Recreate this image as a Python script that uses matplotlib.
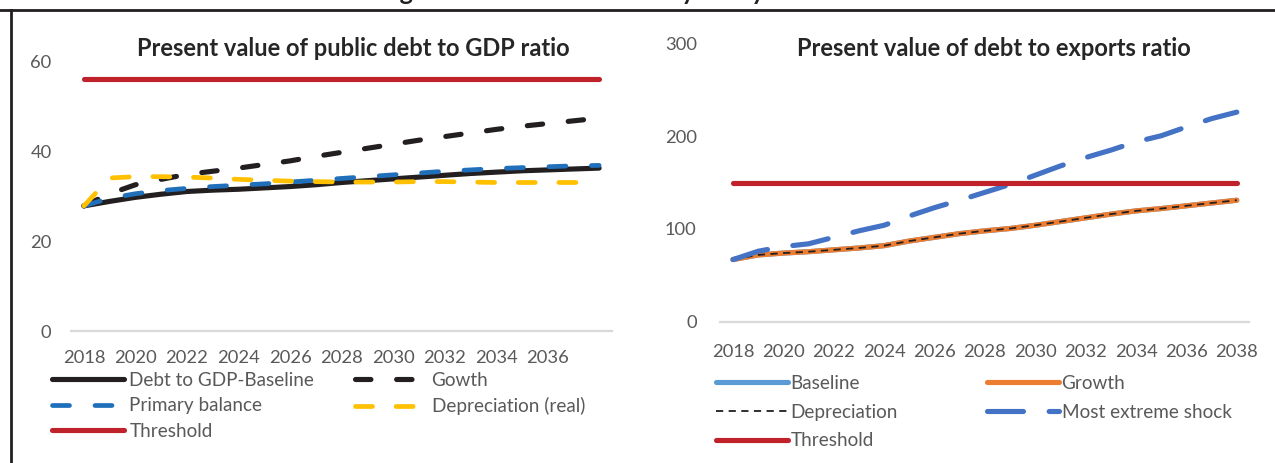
import matplotlib
matplotlib.use('Agg')
import matplotlib.pyplot as plt
from matplotlib.lines import Line2D

# ---------------- data ----------------
years = list(range(2018, 2039))
left_xticks = list(range(2018, 2037, 2))
right_xticks = list(range(2018, 2039, 2))
left_yticks = [0, 20, 40, 60]
right_yticks = [0, 100, 200, 300]

gdp_baseline = [27.8, 28.8, 29.7, 30.4, 31.0, 31.3, 31.5, 31.8, 32.1, 32.5, 33.0,
                33.4, 33.8, 34.2, 34.6, 35.0, 35.3, 35.6, 35.8, 36.0, 36.2]
gdp_growth = [27.8, 30.5, 32.5, 33.7, 34.8, 35.5, 36.2, 37.0, 37.8, 38.8, 39.7,
              40.6, 41.5, 42.4, 43.2, 44.0, 44.8, 45.5, 46.1, 46.7, 47.3]
gdp_primary = [27.8, 29.5, 30.5, 31.2, 31.7, 32.1, 32.4, 32.7, 33.1, 33.5, 33.9,
               34.3, 34.7, 35.1, 35.5, 35.8, 36.1, 36.3, 36.5, 36.7, 36.8]
gdp_depreciation = [27.8, 34.0, 34.3, 34.3, 34.2, 34.0, 33.7, 33.5, 33.3, 33.2, 33.1,
                    33.1, 33.1, 33.2, 33.2, 33.1, 33.0, 33.0, 33.0, 33.0, 33.0]
gdp_threshold = [56] * len(years)

exp_baseline = [67, 72, 74, 75.5, 77.5, 79.5, 82, 87, 91, 95, 98,
                100.5, 104, 108, 112, 116, 119.5, 122, 125, 128, 131]
exp_growth = [67, 72, 74, 75.5, 77.5, 79.5, 82, 87, 91, 95, 98,
              100.5, 104, 108, 112, 116, 119.5, 122, 125, 128, 131]
exp_depreciation = [67, 72, 74, 75.5, 77.5, 79.5, 82, 87, 91, 95, 98,
                    100.5, 104, 108, 112, 116, 119.5, 122, 125, 128, 131]
exp_shock = [67, 76, 81, 84, 91, 98, 104, 114, 123, 131, 139.5,
             148, 158, 168, 177, 185, 194, 200.5, 210, 219, 226]
exp_threshold = [150] * len(years)

# ---------------- style ----------------
plt.rcParams['font.family'] = ['Lato', 'DejaVu Sans']
GRAY = '#595959'
W, H = 1275, 463
fig = plt.figure(figsize=(W / 100, H / 100), dpi=100)


def fx(x):
    return x / W


def fy(y):
    return 1 - y / H


# frame lines and (clipped) figure title
fig.add_artist(Line2D([0, 1], [fy(10), fy(10)], color='#231f20', lw=2.0))
fig.add_artist(Line2D([fx(10.5), fx(10.5)], [fy(10), 0], color='#231f20', lw=2.0))
fig.text(fx(630), fy(0.5), 'Figure 1: Debt Sustainability Analysis Results',
         ha='center', va='baseline', fontsize=18, weight='bold', color='#231f20')

BLACK = '#231f20'
RED = '#c0222b'
LW = 3.7


def style_axes(ax, yticks, ylim, ypad, xpad):
    ax.set_xlim(2017.5, 2038.5)
    ax.set_ylim(*ylim)
    ax.set_yticks(yticks)
    for s in ['left', 'right', 'top']:
        ax.spines[s].set_visible(False)
    ax.spines['bottom'].set_color('#d9d9d9')
    ax.spines['bottom'].set_linewidth(1.6)
    ax.tick_params(axis='both', length=0, labelsize=13.2, labelcolor=GRAY)
    ax.tick_params(axis='y', pad=ypad)
    ax.tick_params(axis='x', pad=xpad)
    ax.patch.set_alpha(0)


# ---------------- left chart ----------------
axL = fig.add_axes([fx(71), fy(331), (612 - 71) / W, (331 - 61) / H])
style_axes(axL, left_yticks, (0, 60), 14, 14)
axL.set_xticks(left_xticks)
axL.set_xticklabels([str(y) for y in left_xticks])

kw = dict(solid_capstyle='round', dash_capstyle='round', clip_on=False)
lb, = axL.plot(years, gdp_baseline, color=BLACK, lw=LW, label='Debt to GDP-Baseline', **kw)
lg, = axL.plot(years, gdp_growth, color=BLACK, lw=LW, ls=(0, (3, 5)), label='Gowth', **kw)
lp, = axL.plot(years, gdp_primary, color='#1f6fba', lw=3.4, ls=(0, (3.6, 5.4)),
               label='Primary balance', **kw)
ld, = axL.plot(years, gdp_depreciation, color='#ffc000', lw=3.4, ls=(0, (3.6, 5.0)),
               label='Depreciation (real)', **kw)
lt, = axL.plot(years, gdp_threshold, color=RED, lw=LW, label='Threshold', **kw)

fig.text(fx(353), fy(48), 'Present value of public debt to GDP ratio', ha='center',
         va='center', fontsize=17, weight='bold', color='#262626')

legkw = dict(frameon=False, fontsize=13.6, labelcolor=GRAY, borderpad=0, borderaxespad=0,
             handlelength=3.8, handletextpad=0.3, labelspacing=0.44,
             bbox_transform=fig.transFigure, loc='upper left')
leg1 = axL.legend(handles=[lb, lp, lt], bbox_to_anchor=(fx(52), fy(372)), **legkw)
axL.add_artist(leg1)
leg2 = axL.legend(handles=[lg, ld], bbox_to_anchor=(fx(355), fy(372)),
                  **{**legkw, 'handlelength': 3.5, 'handletextpad': 0.55})

# ---------------- right chart ----------------
axR = fig.add_axes([fx(720.4), fy(321.7), 529 / W, (321.7 - 43.5) / H])
style_axes(axR, right_yticks, (0, 300), 17, 16)
axR.set_xticks(right_xticks)
axR.set_xticklabels([str(y) for y in right_xticks])

rb, = axR.plot(years, exp_baseline, color='#5b9bd5', lw=LW, label='Baseline', **kw)
rg, = axR.plot(years, exp_growth, color='#ed7d31', lw=LW, label='Growth', **kw)
rd, = axR.plot(years, exp_depreciation, color=BLACK, lw=1.3, ls=(0, (4, 3)),
               label='Depreciation', clip_on=False)
rs, = axR.plot(years, exp_shock, color='#4472c4', lw=LW, ls=(0, (7, 5)),
               label='Most extreme shock', **kw)
rt, = axR.plot(years, exp_threshold, color=RED, lw=LW, label='Threshold', **kw)

fig.text(fx(994), fy(48), 'Present value of debt to exports ratio', ha='center',
         va='center', fontsize=17, weight='bold', color='#262626')

legR = dict(legkw)
legR['labelspacing'] = 0.62
legR['handletextpad'] = 0.15
leg3 = axR.legend(handles=[rb, rd, rt], bbox_to_anchor=(fx(716), fy(375)), **legR)
axR.add_artist(leg3)
leg4 = axR.legend(handles=[rg, rs], bbox_to_anchor=(fx(987), fy(375)), **legR)

fig.savefig('out.png', dpi=100)
